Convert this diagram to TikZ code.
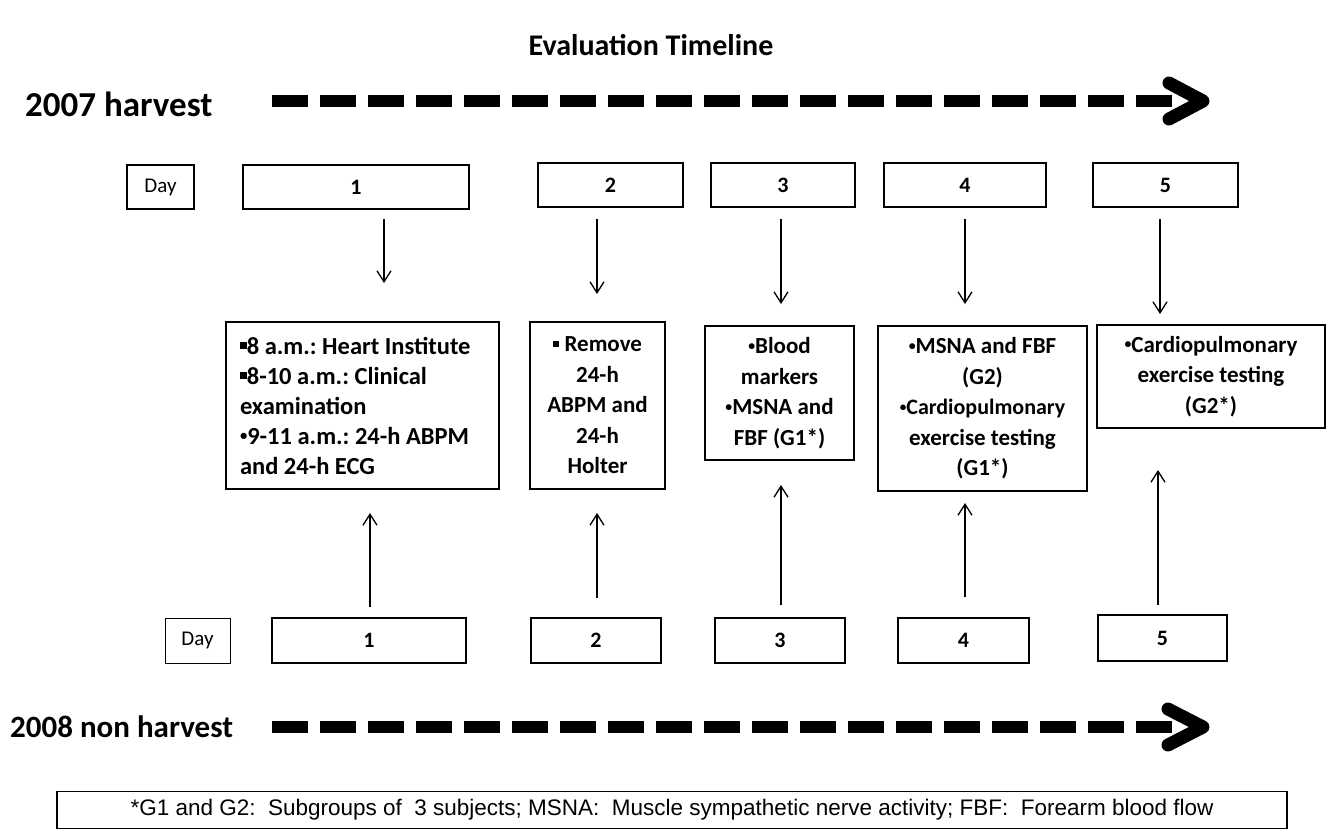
\documentclass[tikz,border=0pt]{standalone}
\usepackage{fontspec}
\usepackage{graphicx}
\setmainfont{Carlito}
\newfontfamily\notefont{Liberation Sans}
\usetikzlibrary{arrows.meta}

\frenchspacing
\newcommand\sqb{\rule[0.2em]{0.28em}{0.28em}}
\newcommand\bul{\raisebox{0.3ex}{\scalebox{0.6}{\textbullet}}}

\tikzset{
  box/.style={draw, line width=1.6pt, inner sep=0pt, align=center},
  daybox/.style={box, font=\fontsize{21}{24}\selectfont, minimum height=44pt},
  numbox/.style={box, font=\bfseries\fontsize{22}{24}\selectfont, minimum height=44pt},
  taskbox/.style={box, font=\bfseries\fontsize{23}{30.5}\selectfont},
  year/.style={font=\bfseries\fontsize{31}{34}\selectfont, anchor=west, inner sep=0pt},
  link/.style={line width=1.3pt, -{Straight Barb[length=11pt,width=14pt,line width=1.3pt]}},
  timeline/.style={line width=12pt, dash pattern=on 36pt off 12pt},
  chevron/.style={line width=13pt, line cap=round, line join=round},
}

\begin{document}
\begin{tikzpicture}[x=1pt,y=-1pt]
  \useasboundingbox (0,0) rectangle (1326,833);

  \node[font=\bfseries\fontsize{30}{34}\selectfont] (title) at (651,45) {Evaluation Timeline};

  % 2007 harvest
  \node[year, font=\bfseries\fontsize{35}{38}\selectfont] (y2007) at (25,104) {2007 harvest};
  \coordinate (tl1) at (272,101);
  \coordinate (tl1e) at (1172,101);
  \draw[timeline] (tl1) -- (tl1e);
  \draw[chevron] (1169,83) -- (1203,101) -- (1169,119);

  \node[daybox, minimum width=67pt] (dayT) at (160.5,187) {Day};
  \node[numbox, minimum width=226pt] (t1) at (356,187) {1};
  \node[numbox, minimum width=145pt] (t2) at (610.5,185) {2};
  \node[numbox, minimum width=144pt] (t3) at (783,185) {3};
  \node[numbox, minimum width=162pt] (t4) at (965,185) {4};
  \node[numbox, minimum width=145pt] (t5) at (1165.5,185) {5};

  % measurements
  \node[taskbox, align=left, minimum width=273pt, minimum height=167pt, font=\bfseries\fontsize{24.5}{30}\selectfont] (m1) at (362.5,405.5)
    {\makebox[245pt][l]{\sqb8 a.m.: Heart Institute}\\ \sqb8-10 a.m.: Clinical\\ examination\\ \bul9-11 a.m.: 24-h ABPM\\ and 24-h ECG};
  \node[taskbox, minimum width=135pt, minimum height=167pt] (m2) at (597.5,405.5)
    {\sqb{} Remove\\ 24-h\\ ABPM and\\ 24-h\\ Holter};
  \node[taskbox, minimum width=149pt, minimum height=134pt] (m3) at (779.5,393)
    {\bul Blood\\ markers\\ \bul MSNA and\\ FBF (G1*)};
  \node[taskbox, minimum width=209pt, minimum height=165pt] (m4) at (982.5,408.5)
    {\bul MSNA and FBF\\ (G2)\\ {\fontsize{22}{30.5}\selectfont\bul Cardiopulmonary}\\ exercise testing\\ (G1*)};
  \node[taskbox, minimum width=228pt, minimum height=103pt] (m5) at (1211,376.5)
    {\bul Cardiopulmonary\\ exercise testing\\ (G2*)};

  % arrows from the 2007 days
  \coordinate (d1) at (384,219); \coordinate (e1) at (384,283);
  \coordinate (d2) at (597,219); \coordinate (e2) at (597,294);
  \coordinate (d3) at (781,219); \coordinate (e3) at (781,304);
  \coordinate (d4) at (965,219); \coordinate (e4) at (965,304);
  \coordinate (d5) at (1160,219); \coordinate (e5) at (1160,314);
  \draw[link] (d1) -- (e1);
  \draw[link] (d2) -- (e2);
  \draw[link] (d3) -- (e3);
  \draw[link] (d4) -- (e4);
  \draw[link] (d5) -- (e5);

  % arrows from the 2008 days
  \coordinate (u1) at (370,607); \coordinate (v1) at (370,513);
  \coordinate (u2) at (597,598); \coordinate (v2) at (597,513);
  \coordinate (u3) at (781,605); \coordinate (v3) at (781,485);
  \coordinate (u4) at (965,597); \coordinate (v4) at (965,503);
  \coordinate (u5) at (1158,605); \coordinate (v5) at (1158,470);
  \draw[link] (u1) -- (v1);
  \draw[link] (u2) -- (v2);
  \draw[link] (u3) -- (v3);
  \draw[link] (u4) -- (v4);
  \draw[link] (u5) -- (v5);

  \node[daybox, line width=1pt, minimum width=65pt, minimum height=45pt] (dayB) at (197.5,640.5) {Day};
  \node[numbox, minimum width=194pt, minimum height=45pt] (b1) at (369,640.5) {1};
  \node[numbox, minimum width=130pt, minimum height=45pt] (b2) at (596,640.5) {2};
  \node[numbox, minimum width=130pt, minimum height=45pt] (b3) at (780,640.5) {3};
  \node[numbox, minimum width=131pt, minimum height=45pt] (b4) at (963.5,640.5) {4};
  \node[numbox, minimum width=129pt, minimum height=46pt] (b5) at (1162.5,638) {5};

  % 2008 non harvest
  \node[year] (y2008) at (10,727) {2008 non harvest};
  \coordinate (tl2) at (272,727);
  \coordinate (tl2e) at (1172,727);
  \draw[timeline] (tl2) -- (tl2e);
  \draw[chevron] (1168,709) -- (1203,727) -- (1168,745);

  \node[box, line width=1.3pt, minimum width=1230pt, minimum height=37pt, font=\notefont\fontsize{22.5}{24}\selectfont] (note) at (672,810)
    {*G1 and G2:\ \ Subgroups of\ \ 3 subjects; MSNA:\ \ Muscle sympathetic nerve activity; FBF:\ \ Forearm blood flow};
\end{tikzpicture}
\end{document}
